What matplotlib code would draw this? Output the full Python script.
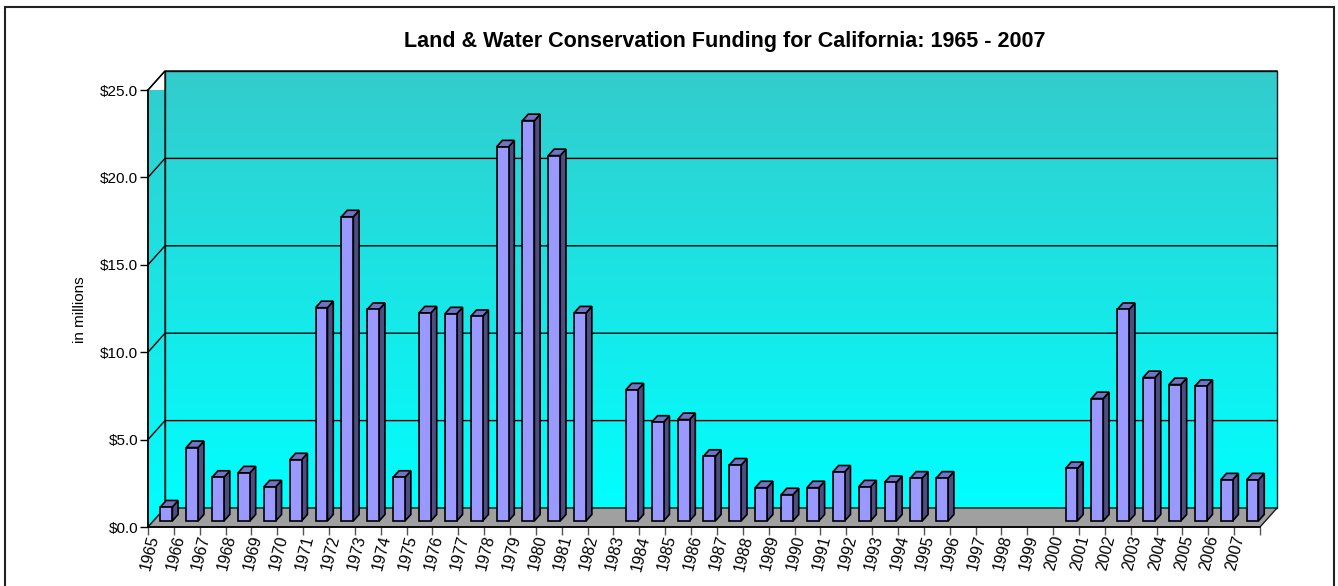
import numpy as np
import matplotlib
matplotlib.use("Agg")
import matplotlib.pyplot as plt
from matplotlib.patches import Polygon, Rectangle
from matplotlib.colors import LinearSegmentedColormap

plt.rcParams['font.family'] = ['Liberation Sans', 'DejaVu Sans']

# data (millions of dollars)
years = list(range(1965, 2008))
funding = [0.8, 4.2, 2.5, 2.75, 1.95, 3.5, 12.2, 17.4, 12.1, 2.5,
           11.9, 11.85, 11.7, 21.4, 22.9, 20.9, 11.9, 0.0, 7.5, 5.65,
           5.8, 3.7, 3.2, 1.9, 1.5, 1.9, 2.8, 1.95, 2.2, 2.45,
           2.45, 0.0, 0.0, 0.0, 0.0, 3.0, 7.0, 12.1, 8.2, 7.8,
           7.7, 2.35, 2.35]
yticks = [0, 5, 10, 15, 20, 25]

W, H = 1338, 586
fig = plt.figure(figsize=(W / 100, H / 100), dpi=100)

# front plane of the plot: (0,0) at px (148,527), (43,25) at px (1260,90)
x0px, x1px, y0px, y1px = 148, 1260, 527, 90
ax = fig.add_axes([x0px / W, (H - y0px) / H, (x1px - x0px) / W, (y0px - y1px) / H])
n = len(years)
ymax = 25
ax.set_xlim(0, n)
ax.set_ylim(0, ymax)
ax.patch.set_visible(False)

# depth offset of the 3d box, in data units
Dx = 17 / ((x1px - x0px) / n)
Dy = 19 / ((y0px - y1px) / ymax)

# wall gradient
cmap = LinearSegmentedColormap.from_list('wall', ['#00FFFF', '#33CCCC'])
grad = np.linspace(0, 1, 256).reshape(-1, 1)

# back wall
ax.imshow(grad, cmap=cmap, origin='lower', aspect='auto',
          extent=(Dx, n + Dx, Dy, ymax + Dy), zorder=1, clip_on=False)
ax.add_patch(Rectangle((Dx, Dy), n, ymax, fill=False, ec='#1a1a1a', lw=1.0,
                       zorder=3, clip_on=False))

# left side wall
side_pts = [(0, 0), (Dx, Dy), (Dx, ymax + Dy), (0, ymax)]
im = ax.imshow(grad, cmap=cmap, origin='lower', aspect='auto',
               extent=(0, Dx, 0, ymax + Dy), zorder=1)
clip_poly = Polygon(side_pts, closed=True, transform=ax.transData)
im.set_clip_path(clip_poly)
im.set_clip_box(None)
ax.add_patch(Polygon(side_pts, closed=True, fill=False, ec='#1a1a1a', lw=1.0,
                     zorder=3, clip_on=False))

# gridlines on the walls
for v in yticks[1:]:
    ax.plot([0, Dx, n + Dx], [v, v + Dy, v + Dy], color='black', lw=1.0,
            zorder=3, clip_on=False)

# floor
ax.add_patch(Polygon([(0, 0), (n, 0), (n + Dx, Dy), (Dx, Dy)], closed=True,
                     fc='#A0A0A0', ec='#1a1a1a', lw=1.0, zorder=4, clip_on=False))

# bars
bw = 0.46
t0, t1 = 0.32, 0.66
front_c, side_c, top_c = '#9999FF', '#4D4D82', '#7373C4'
for i, v in enumerate(funding):
    if v <= 0:
        continue
    bx = i + 0.5 - bw / 2 + t0 * Dx
    by = t0 * Dy
    ddx = (t1 - t0) * Dx
    ddy = (t1 - t0) * Dy
    front = [(bx, by), (bx + bw, by), (bx + bw, by + v), (bx, by + v)]
    side = [(bx + bw, by), (bx + bw + ddx, by + ddy),
            (bx + bw + ddx, by + v + ddy), (bx + bw, by + v)]
    top = [(bx, by + v), (bx + bw, by + v), (bx + bw + ddx, by + v + ddy),
           (bx + ddx, by + v + ddy)]
    for pts, c in ((side, side_c), (top, top_c), (front, front_c)):
        ax.add_patch(Polygon(pts, closed=True, fc=c, ec='black', lw=1.2,
                             joinstyle='miter', zorder=5 + i * 0.01, clip_on=False))

# axes
for s in ('top', 'right'):
    ax.spines[s].set_visible(False)
for s in ('left', 'bottom'):
    ax.spines[s].set_color('black')
    ax.spines[s].set_linewidth(1.2)
    ax.spines[s].set_zorder(10)

ax.set_yticks(yticks)
ax.set_yticklabels(['${:.1f}'.format(v) for v in yticks])
ax.tick_params(axis='y', direction='out', length=6, width=1, labelsize=11,
               colors='black', pad=1)

ax.set_xticks(np.arange(0, n + 1))
ax.set_xticklabels([])
ax.tick_params(axis='x', which='major', direction='out', length=6, width=1,
               color='#555555')
ax.set_xticks(np.arange(n) + 0.5, minor=True)
ax.set_xticklabels([str(y) for y in years], minor=True, rotation=76,
                   ha='right', va='top', fontsize=11.5)
ax.tick_params(axis='x', which='minor', length=0, pad=5)

# texts
fig.text(725 / W, 1 - 42 / H,
         'Land & Water Conservation Funding for California: 1965 - 2007',
         ha='center', va='center', fontsize=15.5, fontweight='bold')
fig.text(80 / W, 1 - 310 / H, 'in millions', rotation=90, ha='center',
         va='center', fontsize=11)

# outer chart border
fig.patches.append(Rectangle((5 / W, -0.05), (1334 - 5) / W, 1.05 - 7 / H,
                             transform=fig.transFigure, fill=False,
                             ec='#222222', lw=1.5))

fig.savefig('out.png', dpi=100)
